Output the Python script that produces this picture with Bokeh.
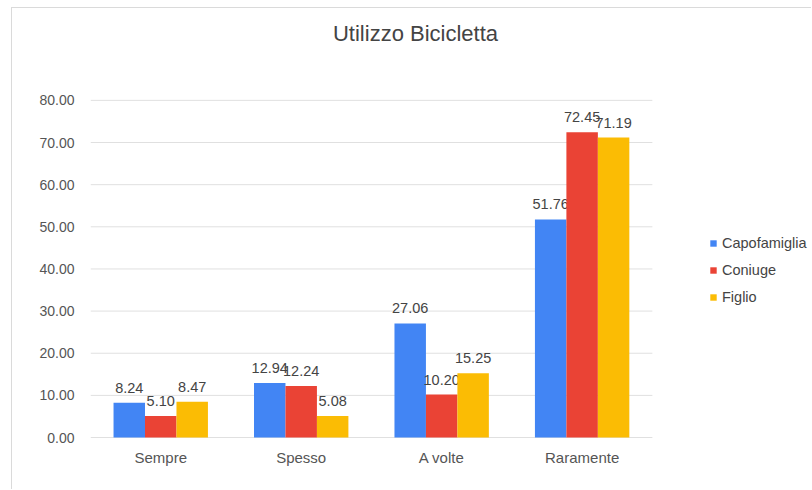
import numpy as np
from bokeh.plotting import figure
from bokeh.models import (ColumnDataSource, Range1d, Legend, LegendItem, NumeralTickFormatter,
                          FixedTicker, Label)
from bokeh.embed import file_html
from bokeh.resources import INLINE

title_text = "Utilizzo Bicicletta"
categories = ["Sempre", "Spesso", "A volte", "Raramente"]
series_names = ["Capofamiglia", "Coniuge", "Figlio"]
capofamiglia = [8.24, 12.94, 27.06, 51.76]
coniuge = [5.10, 12.24, 10.20, 72.45]
figlio = [8.47, 5.08, 15.25, 71.19]
y_ticks = [0, 10, 20, 30, 40, 50, 60, 70, 80]

colors = ["#4285F4", "#EA4335", "#FBBC04"]
FONT = "Liberation Sans"

n = len(categories)
centers = np.arange(n) + 0.5

p = figure(width=800, height=482, x_range=Range1d(0, 5.14), y_range=Range1d(-0.47, 101.8),
           output_backend="svg", toolbar_location=None,
           min_border_left=78, min_border_right=0, min_border_top=0, min_border_bottom=51)
p.styles = {"margin-left": "11px", "margin-top": "7px",
            "border-left": "1px solid #dadada", "border-top": "1px solid #dadada"}
p.outline_line_color = None
p.xgrid.grid_line_color = None
p.ygrid.grid_line_color = None

# horizontal gridlines over the category area only
p.segment(x0=0, x1=n, y0=y_ticks, y1=y_ticks, line_color="#e0e0e0", line_width=1)

w = 0.224
items = []
for k, vals in enumerate([capofamiglia, coniuge, figlio]):
    xs = centers + (k - 1) * w
    src = ColumnDataSource(dict(x=xs, top=vals, lab=["%.2f" % v for v in vals]))
    r = p.vbar(x="x", top="top", width=w, source=src, fill_color=colors[k], line_color=None)
    p.text(x="x", y="top", text="lab", source=src, text_align="center", text_baseline="bottom",
           y_offset=-10, text_font={"value": FONT}, text_font_size="14.5px", text_color="#444444")
    items.append(LegendItem(label=series_names[k], renderers=[r]))

legend = Legend(items=items, location=(619, 132), padding=0, margin=0,
                border_line_color=None, background_fill_alpha=0,
                glyph_width=8, glyph_height=8, label_height=20, spacing=7,
                label_standoff=5, label_text_font=FONT, label_text_font_size="14.5px",
                label_text_color="#444444")
p.add_layout(legend, "center")

p.add_layout(Label(x=325, y=406, x_units="screen", y_units="screen", text=title_text,
                   text_align="center", text_baseline="middle", text_font=FONT,
                   text_font_size="22px", text_color="#444444"))

p.yaxis.ticker = FixedTicker(ticks=y_ticks)
p.yaxis.formatter = NumeralTickFormatter(format="0.00")
p.xaxis.ticker = FixedTicker(ticks=list(centers))
p.xaxis.major_label_overrides = {float(c): lab for c, lab in zip(centers, categories)}
for ax in [p.xaxis[0], p.yaxis[0]]:
    ax.axis_line_color = None
    ax.major_tick_line_color = None
    ax.minor_tick_line_color = None
    ax.major_label_text_font = FONT
    ax.major_label_text_color = "#555555"
p.yaxis.major_label_text_font_size = "14px"
p.xaxis.major_label_text_font_size = "15px"
p.yaxis.major_label_standoff = 10
p.xaxis.major_label_standoff = 3

open("out.html", "w").write(file_html(p, INLINE))
